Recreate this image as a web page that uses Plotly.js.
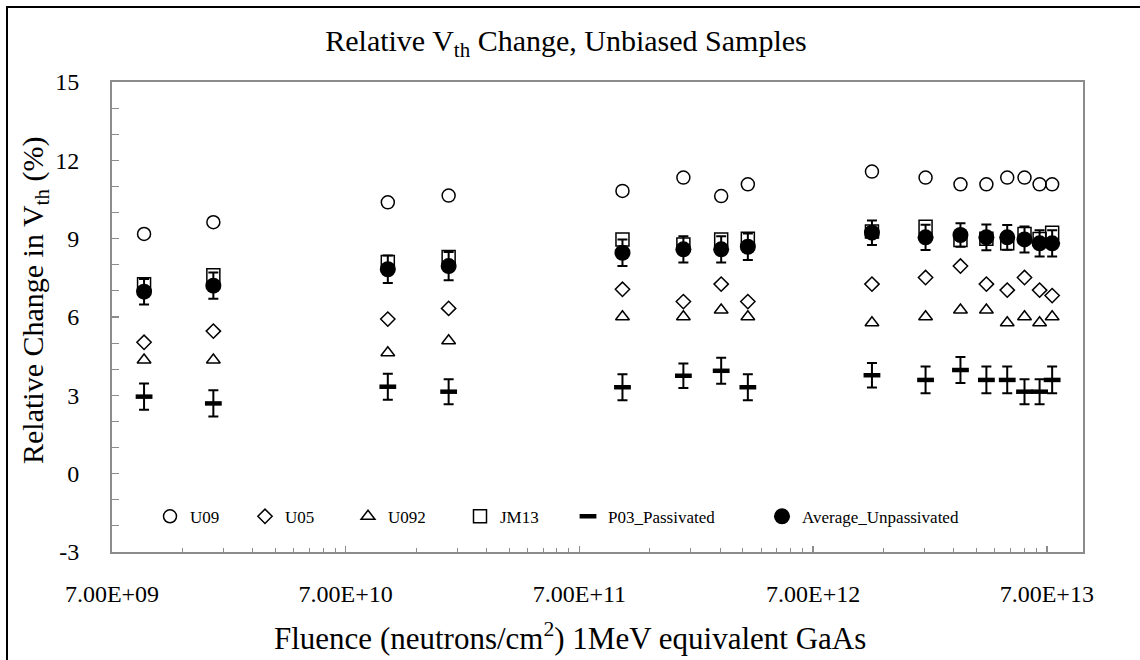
<!DOCTYPE html>
<html>
<head>
<meta charset="utf-8">
<script src="https://cdn.plot.ly/plotly-3.0.1.min.js"></script>
<style>
  html, body { margin: 0; padding: 0; background: #ffffff; overflow: hidden; }
  #wrap { position: relative; width: 1140px; height: 660px; }
  #chart { position: absolute; left: 0; top: 0; width: 1140px; height: 660px; }
  #frame { position: absolute; left: 6px; top: 6px; width: 1200px; height: 700px;
           border: 2px solid #000; pointer-events: none; }
</style>
</head>
<body>
<div id="wrap">
  <div id="chart"></div>
  <div id="frame"></div>
</div>
<script>
// ---- data ----
const fluence = [9.6e9, 1.9e10, 1.06e11, 1.93e11, 1.07e12, 1.95e12, 2.83e12, 3.68e12,
                 1.25e13, 2.12e13, 2.99e13, 3.86e13, 4.74e13, 5.62e13, 6.52e13, 7.38e13];
const U09  = [9.18, 9.63, 10.39, 10.65, 10.83, 11.34, 10.63, 11.08,
              11.57, 11.34, 11.08, 11.08, 11.34, 11.34, 11.08, 11.08];
const U05  = [5.03, 5.46, 5.92, 6.33, 7.06, 6.59, 7.26, 6.59,
              7.26, 7.51, 7.95, 7.26, 7.03, 7.51, 7.03, 6.82];
const U092 = [4.35, 4.35, 4.63, 5.09, 6.01, 6.01, 6.27, 6.01,
              5.78, 6.01, 6.27, 6.27, 5.78, 6.01, 5.78, 6.01];
const JM13 = [7.25, 7.6, 8.11, 8.3, 8.97, 8.78, 8.97, 9.0,
              9.27, 9.46, 8.95, 9.0, 8.82, 9.18, 8.99, 9.23];
const P03  = [2.95, 2.69, 3.33, 3.14, 3.31, 3.75, 3.94, 3.31,
              3.77, 3.59, 3.97, 3.59, 3.59, 3.14, 3.14, 3.59];
const P03_err = [0.5, 0.5, 0.5, 0.48, 0.5, 0.47, 0.5, 0.5,
                 0.47, 0.51, 0.5, 0.51, 0.51, 0.48, 0.48, 0.51];
const Avg  = [6.97, 7.2, 7.83, 7.95, 8.46, 8.59, 8.59, 8.69,
              9.23, 9.05, 9.14, 9.05, 9.05, 8.97, 8.82, 8.82];
const Avg_err = [0.49, 0.5, 0.53, 0.54, 0.51, 0.5, 0.5, 0.51,
                 0.47, 0.48, 0.45, 0.49, 0.47, 0.5, 0.5, 0.5];

const seriesNames = ["U09", "U05", "U092", "JM13", "P03_Passivated", "Average_Unpassivated"];

const xTickVals = [7e9, 7e10, 7e11, 7e12, 7e13];
const xTickText = ["7.00E+09", "7.00E+10", "7.00E+11", "7.00E+12", "7.00E+13"];
const yTickVals = [-3, 0, 3, 6, 9, 12, 15];
const yTickText = ["-3", "0", "3", "6", "9", "12", "15"];

const chartTitle = "Relative V<sub>th</sub> Change, Unbiased Samples";
const xTitle = "Fluence (neutrons/cm<sup>2</sup>) 1MeV equivalent GaAs";
const yTitle = "Relative Change in V<sub>th</sub> (%)";

// minor x ticks at k * major for k = 2..9
const xMinor = [];
xTickVals.forEach(m => { for (let k = 2; k <= 9; k++) xMinor.push(m * k); });

const FONT = "'Liberation Serif', 'Times New Roman', Times, serif";
const AXIS_COLOR = "#8c8c8c";

// plot-area geometry in pixels (for placing text in paper units)
const PL = 112, PR = 1083, PT = 82, PB = 552;
const px2x = p => (p - PL) / (PR - PL);
const px2y = p => (PB - p) / (PB - PT);

function openTrace(name, y, symbol, size, legendId) {
  return {
    type: "scatter", mode: "markers", name: name, x: fluence, y: y,
    legend: legendId,
    marker: { symbol: symbol, size: size, color: "#000", line: { color: "#000", width: 1.5 } }
  };
}

const traces = [
  openTrace(seriesNames[0], U09, "circle-open", 13, "legend"),
  openTrace(seriesNames[1], U05, "diamond-open", 11, "legend2"),
  openTrace(seriesNames[2], U092, "triangle-up-open", 12, "legend3"),
  openTrace(seriesNames[3], JM13, "square-open", 13, "legend4"),
  {
    type: "scatter", mode: "markers", name: seriesNames[4], x: fluence, y: P03,
    legend: "legend5",
    marker: { symbol: "line-ew", size: 12, color: "#000", line: { color: "#000", width: 4.5 } },
    error_y: { type: "data", array: P03_err, visible: true, color: "#000", thickness: 2, width: 5 }
  },
  {
    type: "scatter", mode: "markers", name: seriesNames[5], x: fluence, y: Avg,
    legend: "legend6",
    marker: { symbol: "circle", size: 16, color: "#000" },
    error_y: { type: "data", array: Avg_err, visible: true, color: "#000", thickness: 2, width: 5 }
  }
];

function leg(xpx) {
  return {
    x: px2x(xpx), y: 0.075, xanchor: "left", yanchor: "middle",
    bgcolor: "rgba(0,0,0,0)", borderwidth: 0, itemwidth: 30,
    font: { family: FONT, size: 17, color: "#000" }
  };
}

const layout = {
  width: 1140, height: 660,
  margin: { l: PL, r: 1140 - PR, t: PT, b: 660 - PB },
  paper_bgcolor: "#fff", plot_bgcolor: "#fff",
  font: { family: FONT, color: "#000" },
  title: {
    text: chartTitle,
    font: { family: FONT, size: 30, color: "#000" },
    x: 566 / 1140, xanchor: "center", y: 1 - 40 / 660, yanchor: "middle",
    xref: "container", yref: "container"
  },
  xaxis: {
    type: "log",
    range: [Math.log10(7e9), 14],
    tickmode: "array", tickvals: xTickVals, ticktext: xTickText,
    ticks: "inside", ticklen: 6, tickwidth: 1.5, tickcolor: AXIS_COLOR,
    minor: { tickmode: "array", tickvals: xMinor, ticks: "inside", ticklen: 4, tickwidth: 1, tickcolor: AXIS_COLOR, showgrid: false },
    showline: true, linecolor: AXIS_COLOR, linewidth: 2, mirror: true,
    showgrid: false, zeroline: false,
    tickfont: { family: FONT, size: 24, color: "#000" },
    ticklabelstandoff: 19
  },
  yaxis: {
    range: [-3, 15],
    tickmode: "array", tickvals: yTickVals, ticktext: yTickText,
    ticks: "inside", ticklen: 7, tickwidth: 1.5, tickcolor: AXIS_COLOR,
    minor: { dtick: 1, ticks: "inside", ticklen: 7, tickwidth: 1, tickcolor: AXIS_COLOR, showgrid: false },
    showline: true, linecolor: AXIS_COLOR, linewidth: 2, mirror: true,
    showgrid: false, zeroline: false,
    tickfont: { family: FONT, size: 24, color: "#000" },
    ticklabelstandoff: 26
  },
  annotations: [
    { text: xTitle, xref: "paper", yref: "paper", x: px2x(570), y: px2y(636),
      xanchor: "center", yanchor: "middle", showarrow: false,
      font: { family: FONT, size: 31, color: "#000" } },
    { text: yTitle, xref: "paper", yref: "paper", x: px2x(35), y: px2y(301),
      xanchor: "center", yanchor: "middle", showarrow: false, textangle: -90,
      font: { family: FONT, size: 30, color: "#000" } }
  ],
  showlegend: true,
  legend: leg(150),
  legend2: leg(245),
  legend3: leg(348),
  legend4: leg(460),
  legend5: leg(568),
  legend6: leg(762)
};

Plotly.newPlot("chart", traces, layout, { displayModeBar: false, staticPlot: true });
</script>
</body>
</html>
